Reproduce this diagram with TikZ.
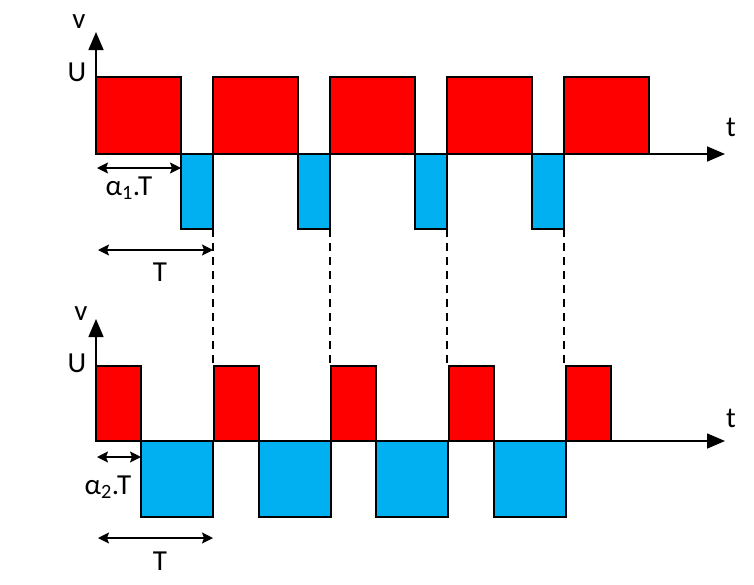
\documentclass[tikz,border=0pt]{standalone}
\usepackage{fontspec}
\setmainfont{Carlito}
\usetikzlibrary{arrows.meta}
\definecolor{pulsered}{RGB}{255,0,0}
\definecolor{pulseblue}{RGB}{0,176,240}
\tikzset{
  posbox/.style={fill=pulsered, draw=black, line width=2pt},
  negbox/.style={fill=pulseblue, draw=black, line width=2pt},
  axisline/.style={line width=1.6pt, -{Triangle[length=18pt,width=15pt]}},
  dimline/.style={line width=1.6pt, {Stealth[length=11pt,width=11pt,inset=2pt]}-{Stealth[length=11pt,width=11pt,inset=2pt]}},
  guideline/.style={line width=1.5pt, dash pattern=on 8pt off 6pt},
  lbl/.style={font=\fontsize{29}{31}\selectfont, inner sep=0pt}
}
\begin{document}
\begin{tikzpicture}[x=1pt,y=-1pt]
\useasboundingbox (0,0) rectangle (754,584);
% upper graph, alpha1
\foreach \k in {0,...,4} \draw[posbox] (96+117*\k,154) rectangle +(85,-77) ;
\foreach \k in {0,...,3} \draw[negbox] (181+117*\k,154) rectangle +(32,75) ;
\coordinate (o1) at (96,154) ;
\draw[axisline] (o1) -- (725,154) ;
\draw[axisline] (o1) -- (96,32) ;
\node[lbl] (v1) at (79,22) {v} ;
\node[lbl] (u1) at (77,72) {U} ;
\node[lbl] (t1) at (731,127) {t} ;
% lower graph, alpha2
\foreach \k in {0,...,4} \draw[posbox] (96+117.5*\k,441) rectangle +(45,-75) ;
\foreach \k in {0,...,3} \draw[negbox] (141+117.5*\k,441) rectangle +(72,76) ;
\coordinate (o2) at (96,441) ;
\draw[axisline] (o2) -- (725,441) ;
\draw[axisline] (o2) -- (96,319) ;
\node[lbl] (v2) at (81,314) {v} ;
\node[lbl] (u2) at (77,363) {U} ;
\node[lbl] (t2) at (731,418) {t} ;
% dashed guides from the upper graph to the lower one
\foreach \k in {1,...,4} {
  \coordinate (g\k a) at (96+117*\k,229) ;
  \coordinate (g\k b) at (96+117*\k,366) ;
  \draw[guideline] (g\k a) -- (g\k b) ;
}
% durations
\coordinate (a1l) at (97,168) ; \coordinate (a1r) at (181,168) ;
\draw[dimline] (a1l) -- (a1r) ;
\node[lbl] (a1) at (129,188) {α\textsubscript{1}.T} ;
\coordinate (p1l) at (98,250) ; \coordinate (p1r) at (213,250) ;
\draw[dimline] (p1l) -- (p1r) ;
\node[lbl] (p1) at (160,272) {T} ;
\coordinate (a2l) at (97,457) ; \coordinate (a2r) at (141,457) ;
\draw[dimline] (a2l) -- (a2r) ;
\node[lbl] (a2) at (108,487) {α\textsubscript{2}.T} ;
\coordinate (p2l) at (98,538) ; \coordinate (p2r) at (213,538) ;
\draw[dimline] (p2l) -- (p2r) ;
\node[lbl] (p2) at (160,561) {T} ;
\end{tikzpicture}
\end{document}
